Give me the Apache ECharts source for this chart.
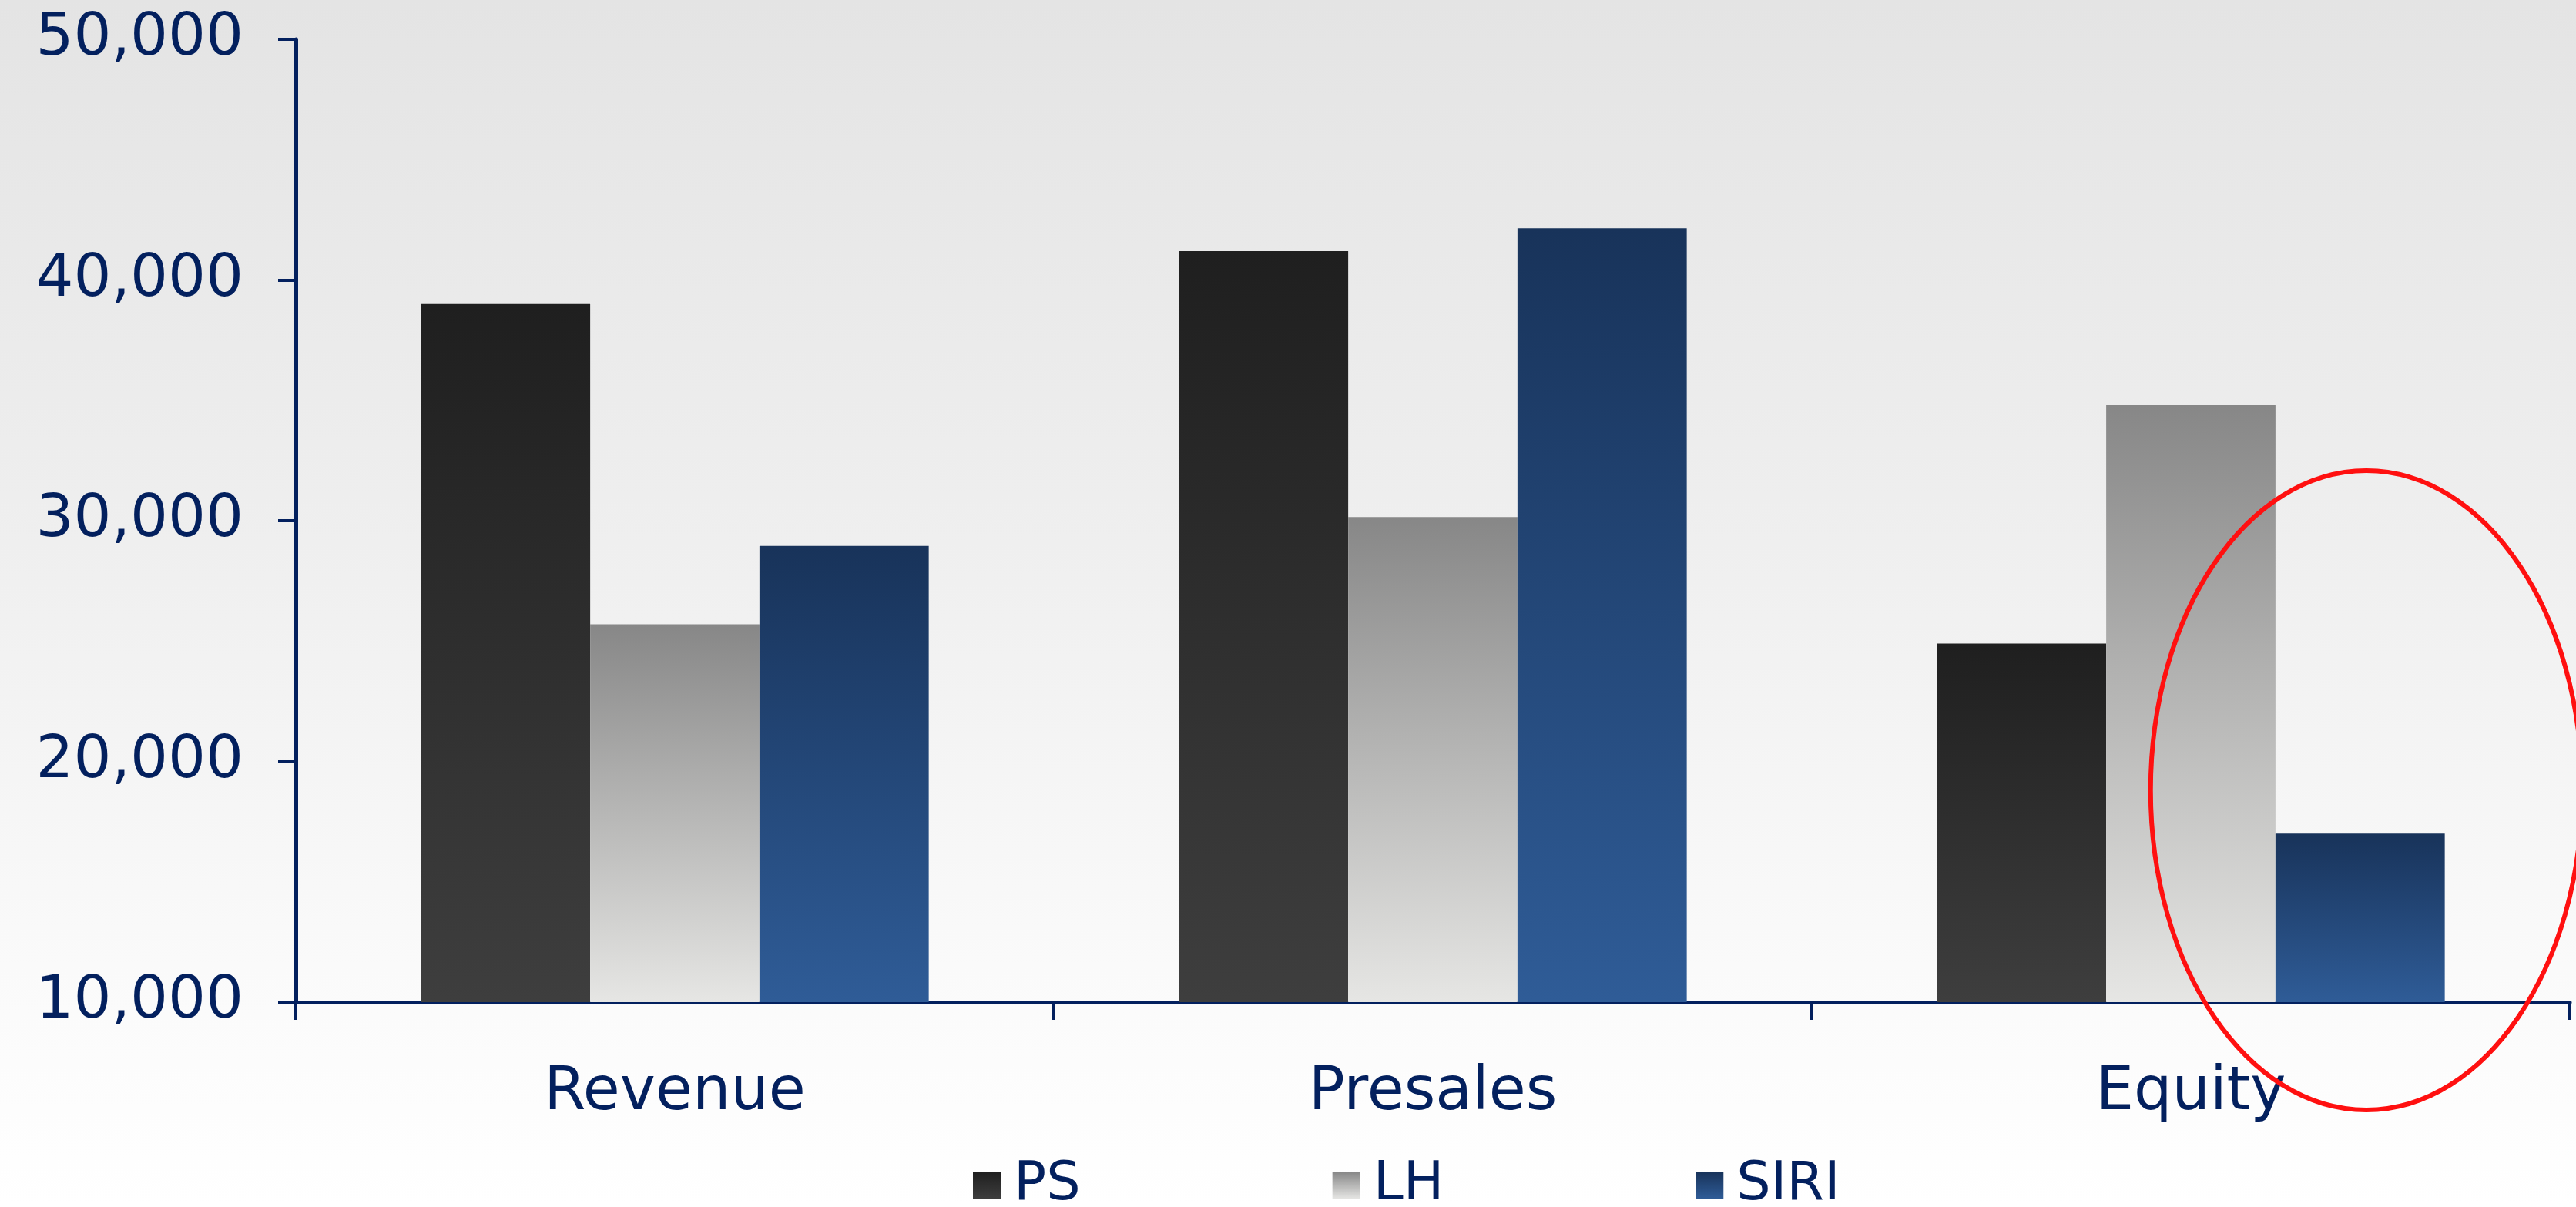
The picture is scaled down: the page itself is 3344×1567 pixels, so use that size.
<!DOCTYPE html>
<html>
<head>
<meta charset="utf-8">
<script src="https://cdn.jsdelivr.net/npm/echarts@6/dist/echarts.min.js"></script>
<style>
html,body{margin:0;padding:0;}
#chart{width:3344px;height:1567px;background:linear-gradient(to bottom,#e4e4e4 0%,#efefef 45%,#fafafa 80%,#ffffff 100%);}
</style>
</head>
<body>
<div id="chart"></div>
<script>
const categories = ['Revenue', 'Presales', 'Equity'];
const seriesNames = ['PS', 'LH', 'SIRI'];
const psValues = [39000, 41200, 24900];
const lhValues = [25700, 30150, 34800];
const siriValues = [28950, 42150, 17000];
const yTicks = [10000, 20000, 30000, 40000, 50000];
const highlightPoint = [2, 18800]; // centre of the red ellipse (Equity, value)

const navy = '#03205e';
function grad(top, bottom) {
  return new echarts.graphic.LinearGradient(0, 0, 0, 1, [
    {offset: 0, color: top}, {offset: 1, color: bottom}
  ]);
}
const colors = [grad('#1f1f1f', '#3e3e3e'), grad('#878787', '#e6e6e4'), grad('#18335a', '#2f5c97')];
const values = [psValues, lhValues, siriValues];
const catGap = 0.33;

const chart = echarts.init(document.getElementById('chart'), null, {renderer: 'canvas'});
const font = 'DejaVu Sans';
chart.setOption({
  backgroundColor: 'transparent',
  animation: false,
  grid: {left: 384, right: 8, top: 51, bottom: 266, containLabel: false},
  legend: {
    data: seriesNames,
    left: 1258,
    top: 1499,
    itemWidth: 36,
    itemHeight: 35,
    itemGap: 327,
    icon: 'rect',
    textStyle: {color: navy, fontSize: 70, fontFamily: font, padding: [0, 0, 0, 12], width: 118}
  },
  xAxis: {
    type: 'category',
    data: categories,
    axisLine: {show: true, lineStyle: {color: navy, width: 5}},
    axisTick: {show: true, length: 23, lineStyle: {color: navy, width: 4}},
    axisLabel: {color: navy, fontSize: 78, fontFamily: font, margin: 80},
    splitLine: {show: false}
  },
  yAxis: {
    type: 'value',
    min: yTicks[0],
    max: yTicks[yTicks.length - 1],
    interval: yTicks[1] - yTicks[0],
    axisLine: {show: true, lineStyle: {color: navy, width: 5}},
    axisTick: {show: true, length: 23, lineStyle: {color: navy, width: 4}},
    axisLabel: {
      color: navy, fontSize: 77, fontFamily: font, margin: 68, padding: [18, 0, 0, 0],
      formatter: v => v.toLocaleString('en-US')
    },
    splitLine: {show: false}
  },
  series: seriesNames.map((name, i) => ({
    name: name,
    type: 'bar',
    data: values[i],
    barGap: '0%',
    barCategoryGap: (catGap * 100) + '%',
    itemStyle: {color: colors[i]}
  }))
});

const c = chart.convertToPixel({xAxisIndex: 0, yAxisIndex: 0}, highlightPoint);
const c0 = chart.convertToPixel({xAxisIndex: 0, yAxisIndex: 0}, [0, highlightPoint[1]]);
const c1 = chart.convertToPixel({xAxisIndex: 0, yAxisIndex: 0}, [1, highlightPoint[1]]);
const band = c1[0] - c0[0];
const barW = band * (1 - catGap) / 3;
const cx = c[0] + barW + 8;
chart.setOption({
  graphic: [{
    type: 'ellipse',
    shape: {cx: cx, cy: c[1], rx: 280, ry: 415},
    style: {fill: 'none', stroke: '#ff1010', lineWidth: 6},
    z: 100
  }]
});
</script>
</body>
</html>
